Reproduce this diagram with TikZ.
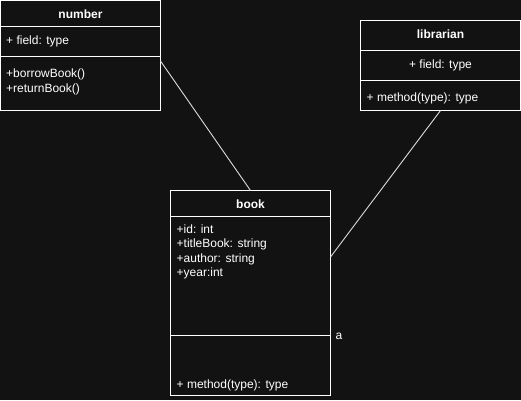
\documentclass[tikz,border=0pt]{standalone}
\usepackage{fontspec}
\setmainfont{Liberation Sans}
\definecolor{bg}{HTML}{121212}
\definecolor{fg}{HTML}{FFFFFF}
\tikzset{
  classbox/.style={draw=fg, line width=1pt, inner sep=0pt, outer sep=0pt, minimum width=160pt},
  divider/.style={fg, line width=1pt},
  head/.style={text=fg, inner sep=0pt, anchor=base, font=\fontsize{12pt}{14.4pt}\selectfont\bfseries},
  item/.style={text=fg, inner sep=0pt, anchor=base west, align=left, font=\fontsize{12pt}{14.4pt}\selectfont},
  link/.style={fg!85!bg, line width=0.9pt}
}

\begin{document}
\begin{tikzpicture}[x=1pt,y=-1pt]
\fill[bg] (0,0) rectangle (521,400);
\useasboundingbox (0,0) rectangle (521,400);

\node[classbox, minimum height=110pt] (number) at (80.5,55.5) {};
\draw[divider] (number.west |- 0,26.5) -- (number.east |- 0,26.5);
\draw[divider] (number.west |- 0,56.5) -- (number.east |- 0,56.5);
\node[head] (numberhead) at (80.5,18) {number};
\node[item] (numberfield) at (6,44.5) {+ field: type};
\node[item] (numbermethods) at (6,92) {+borrowBook()\\+returnBook()};

\node[classbox, minimum height=90pt] (librarian) at (440.5,65.5) {};
\draw[divider] (librarian.west |- 0,50) -- (librarian.east |- 0,50);
\draw[divider] (librarian.west |- 0,80.5) -- (librarian.east |- 0,80.5);
\node[head] (librarianhead) at (440.5,38) {librarian};
\node[item, anchor=base] (librarianfield) at (440.5,68.5) {+ field: type};
\node[item] (librarianmethod) at (366.5,101.5) {+ method(type): type};

\node[classbox, minimum height=205pt] (book) at (250.5,293) {};
\draw[divider] (book.west |- 0,216.5) -- (book.east |- 0,216.5);
\draw[divider] (book.west |- 0,335.5) -- (book.east |- 0,335.5);
\node[head] (bookhead) at (250.5,208) {book};
\node[item] (bookfields) at (176.5,276.5) {+id: int\\+titleBook: string\\+author: string\\+year:int};
\node[item] (bookmethod) at (176.5,388.5) {+ method(type): type};
\node[item] (booklabel) at (335.5,339.5) {a};

\draw[link] ([yshift=-5.5pt]number.east) -- (book.north);
\draw[link] (librarian.south) -- ([yshift=36pt]book.east);
\end{tikzpicture}
\end{document}
